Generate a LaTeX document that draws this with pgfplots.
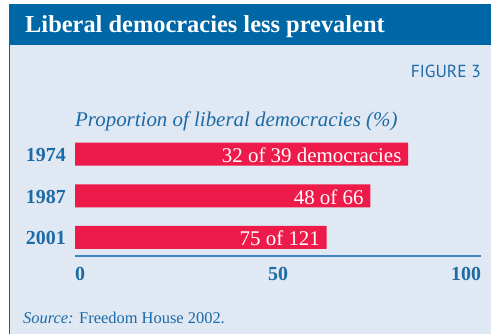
\documentclass[border=0pt]{standalone}
\usepackage{pgfplots}
\pgfplotsset{compat=1.18}
\usepackage{fontspec}
\setmainfont{Liberation Serif}
\newfontfamily\figfont{PT Sans}
\definecolor{titleblue}{HTML}{0067A6}
\definecolor{bgblue}{HTML}{E0E8F3}
\definecolor{barred}{HTML}{EE1A4A}
\definecolor{textblue}{HTML}{1C6AA6}
\definecolor{lineblue}{HTML}{3F86C4}
\begin{document}
\begin{tikzpicture}
\path[use as bounding box] (0,0) rectangle (491bp,334bp);
\fill[bgblue] (9bp,0) rectangle (491bp,289bp);
\fill[titleblue] (9bp,289bp) rectangle (491bp,330bp);
\draw[titleblue, line width=1bp] (9bp,0) -- (9bp,289bp);
\node[anchor=base west, inner sep=0pt, text=white, font=\bfseries\fontsize{24.5}{24.5}\selectfont] at (25bp,301bp) {Liberal democracies less prevalent};
\node[anchor=base east, inner sep=0pt, text=textblue, font=\figfont\fontsize{17.5}{17.5}\selectfont] at (481bp,256bp) {FIGURE 3};
\node[anchor=base west, inner sep=0pt, text=textblue, font=\itshape\fontsize{21}{21}\selectfont] at (75bp,207bp) {Proportion of liberal democracies (\%)};
\node[anchor=base west, inner sep=0pt, text=textblue, font=\fontsize{16.5}{16.5}\selectfont] at (23bp,11bp) {\textit{Source:} Freedom House 2002.};
\begin{axis}[
  at={(75bp,78bp)}, anchor=south west,
  scale only axis, width=406bp, height=126.7bp,
  xbar, bar width=23bp,
  xmin=0, xmax=100, ymin=-0.45, ymax=2.6,
  enlargelimits=false, clip=false,
  separate axis lines,
  axis x line*=bottom, axis y line*=left,
  x axis line style={lineblue, line width=1.2bp},
  y axis line style={draw=none},
  major tick length=0pt,
  xtick={0,50,100},
  xticklabels={\makebox[0pt][l]{0},50,\makebox[0pt][r]{100}},
  ytick={0,1,2},
  yticklabels={2001,1987,1974},
  xticklabel style={font=\bfseries\fontsize{20}{20}\selectfont, text=textblue, inner sep=0pt, anchor=north, yshift=-11bp},
  yticklabel style={font=\bfseries\fontsize{20}{20}\selectfont, text=textblue, inner sep=0pt, anchor=east, xshift=-9bp, yshift=-1bp},
  point meta=explicit symbolic,
  nodes near coords,
  every node near coord/.append style={anchor=east, xshift=-6.5bp, yshift=-1bp, text=white, inner sep=0pt, font=\fontsize{21}{21}\selectfont},
]
\addplot[fill=barred, draw=none] coordinates {(61.98,0) [75 of 121] (72.73,1) [48 of 66] (82.05,2) [32 of 39 democracies]};
\end{axis}
\end{tikzpicture}
\end{document}
